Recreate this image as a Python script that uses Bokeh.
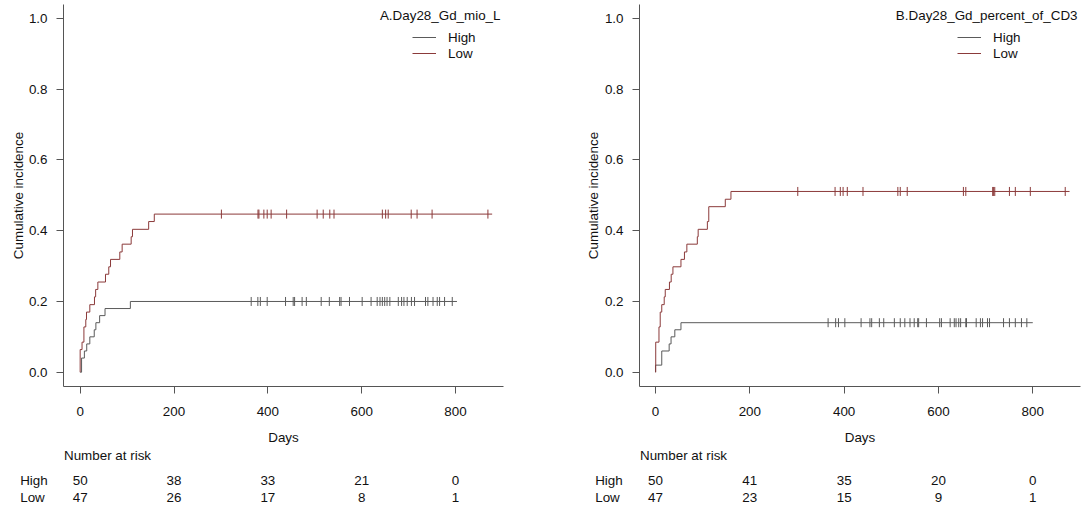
import numpy as np
from bokeh.plotting import figure
from bokeh.models import (Range1d, FixedTicker, PrintfTickFormatter, Label,
                          Legend, LegendItem)
from bokeh.layouts import row, column
from bokeh.core.properties import value
from bokeh.embed import file_html
from bokeh.resources import INLINE

# ---------------- data ----------------
risk_times = [0, 200, 400, 600, 800]
group_names = ["High", "Low"]
x_ticks = [0, 200, 400, 600, 800]
y_ticks = [0.0, 0.2, 0.4, 0.6, 0.8, 1.0]

# Panel A
a_title = "A.Day28_Gd_mio_L"
a_high_event_days = [3, 9, 14, 20.6, 30, 33.5, 41.5, 53, 107]
a_high_ci = [0.04, 0.06, 0.08, 0.10, 0.12, 0.14, 0.16, 0.18, 0.20]
a_high_censor_days = [364.5, 378.7, 384, 398.6, 437.7, 454, 457, 473, 482, 513.7, 531, 553,
                      556, 574, 601, 620, 633, 639, 644, 649, 654, 660, 678, 685, 690, 697,
                      706, 712.6, 736, 741, 752, 761, 766, 776.6, 793]
a_high_last_day = 803
a_low_event_days = [0, 4, 8, 12, 13.5, 20.6, 30.5, 33, 37.7, 54, 61, 64.7, 84.5, 89.5,
                    108.7, 111.5, 146, 158]
a_low_ci = [0.064, 0.085, 0.128, 0.149, 0.170, 0.191, 0.213, 0.234, 0.255, 0.277, 0.298,
            0.319, 0.340, 0.362, 0.383, 0.404, 0.426, 0.447]
a_low_censor_days = [301, 379, 381, 391.5, 398.6, 407, 440, 505, 518, 532, 541, 644, 651,
                     656.5, 705.5, 718, 750, 869]
a_low_last_day = 878
a_risk_high = [50, 38, 33, 21, 0]
a_risk_low = [47, 26, 17, 8, 1]

# Panel B
b_title = "B.Day28_Gd_percent_of_CD3"
b_high_event_days = [0, 13.3, 29, 33, 41, 54]
b_high_ci = [0.02, 0.06, 0.08, 0.10, 0.12, 0.14]
b_high_censor_days = [366, 382, 388, 401.5, 436, 454.7, 458.4, 474.7, 484, 506.5, 519, 528.7,
                      539.7, 548.6, 556, 558, 574.5, 602.6, 606.3, 624.8, 633.6, 637.3, 643,
                      647, 658, 659.5, 680, 689, 693.5, 704, 708.3, 738, 750.5, 763, 776, 787.4]
b_high_last_day = 800
b_low_event_days = [0.5, 7.4, 10, 13.3, 18.5, 20.7, 29.6, 33.3, 37, 54, 61.4, 66.5, 88.7,
                    90.5, 110, 113, 148, 160]
b_low_ci = [0.085, 0.128, 0.170, 0.191, 0.213, 0.234, 0.255, 0.277, 0.298, 0.319, 0.340,
            0.362, 0.383, 0.404, 0.426, 0.468, 0.489, 0.511]
b_low_censor_days = [301.7, 380.8, 391.9, 397.8, 406.7, 440, 513.9, 519, 533.8, 652.9, 658,
                     715, 717, 719.4, 750.5, 763, 794.8, 868.8]
b_low_last_day = 878
b_risk_high = [50, 41, 35, 20, 0]
b_risk_low = [47, 23, 15, 9, 1]

# ---------------- style ----------------
FONT = "Liberation Sans"
FS = "13.4px"
TXT = "#111111"
AXC = "#555555"
COL_HIGH = "#5a5a5a"
COL_LOW = "#8b3a3a"

MAIN_H = 424
FRAME_TOP = 4
FRAME_BOTTOM = 386
TABLE_H = 88


def make_panel(title, high, low, risk_high, risk_low, width, b_left, b_right,
               x_start, x_end, legend_x, legend_standoff, title_x, ylab_standoff, rowlab_px):
    frame_w = width - b_left - b_right
    p = figure(width=width, height=MAIN_H, output_backend="svg", toolbar_location=None,
               x_range=Range1d(x_start, x_end), y_range=Range1d(-0.0404, 1.0396),
               min_border_left=b_left, min_border_right=b_right,
               min_border_top=FRAME_TOP, min_border_bottom=MAIN_H - FRAME_BOTTOM,
               background_fill_color="white", border_fill_color="white")
    p.frame_align = False
    p.outline_line_color = None
    p.grid.visible = False

    for ax in (p.xaxis[0], p.yaxis[0]):
        ax.axis_line_color = AXC
        ax.major_tick_line_color = AXC
        ax.major_tick_out = 7
        ax.major_tick_in = 0
        ax.minor_tick_line_color = None
        ax.major_label_text_font = FONT
        ax.major_label_text_font_size = FS
        ax.major_label_text_color = TXT
        ax.axis_label_text_font = FONT
        ax.axis_label_text_font_size = FS
        ax.axis_label_text_font_style = "normal"
        ax.axis_label_text_color = TXT

    p.xaxis.ticker = FixedTicker(ticks=x_ticks)
    p.xaxis.formatter = PrintfTickFormatter(format="%d")
    p.xaxis.major_label_standoff = 13

    p.yaxis.ticker = FixedTicker(ticks=y_ticks)
    p.yaxis.formatter = PrintfTickFormatter(format="%.1f")
    p.yaxis.major_label_standoff = 9
    p.yaxis.axis_label = "Cumulative incidence"
    p.yaxis.axis_label_standoff = ylab_standoff

    items = []
    for name, (ev_days, ci, cens, last), col in zip(group_names, (high, low), (COL_HIGH, COL_LOW)):
        xs = [0] + list(ev_days) + [last]
        ys = [0] + list(ci) + [ci[-1]]
        p.step(x=xs, y=ys, mode="after", line_color=col, line_width=1)
        p.scatter(x=cens, y=[ci[-1]] * len(cens), marker="dash", angle=np.pi / 2,
                  size=9, line_color=col, line_width=1)
        proxy = p.line(x=[np.nan], y=[np.nan], line_color=col, line_width=1)
        items.append(LegendItem(label=name, renderers=[proxy]))

    legend = Legend(items=items, location=(legend_x, 324.7), glyph_width=24, glyph_height=16,
                    label_height=16, label_standoff=legend_standoff, spacing=0, padding=0,
                    margin=0, border_line_color=None, background_fill_alpha=0,
                    label_text_font=FONT, label_text_font_size=FS, label_text_color=TXT)
    p.add_layout(legend)

    p.add_layout(Label(x=title_x, y=371.1, x_units="screen", y_units="screen", text=title,
                       text_align="right", text_baseline="middle", text_font=FONT,
                       text_font_size=FS, text_color=TXT))

    # ---- lower strip: x label + number at risk table ----
    scale = frame_w / (x_end - x_start)
    t_start = x_start - b_left / scale
    t_end = x_end + b_right / scale
    t = figure(width=width, height=TABLE_H, output_backend="svg", toolbar_location=None,
               x_range=Range1d(t_start, t_end), y_range=Range1d(TABLE_H, 0),
               x_axis_location=None, y_axis_location=None,
               min_border_left=0, min_border_right=0, min_border_top=0, min_border_bottom=0,
               background_fill_color="white", border_fill_color="white")
    t.frame_align = False
    t.outline_line_color = None
    t.grid.visible = False

    def txt(x, y, s, align):
        t.text(x=x, y=y, text=s, text_align=align, text_baseline="middle",
               text_font=value(FONT), text_font_size=FS, text_color=TXT)

    txt([(x_start + x_end) / 2], [13.4], ["Days"], "center")
    txt([t_start + (b_left + 0.5) / scale], [30.7], ["Number at risk"], "left")
    for name, counts, yy in zip(group_names, (risk_high, risk_low), (55.6, 72.9)):
        txt([t_start + rowlab_px / scale], [yy], [name], "left")
        txt(risk_times, [yy] * len(risk_times), [str(c) for c in counts], "center")

    return column(p, t)


pa = make_panel(a_title,
                (a_high_event_days, a_high_ci, a_high_censor_days, a_high_last_day),
                (a_low_event_days, a_low_ci, a_low_censor_days, a_low_last_day),
                a_risk_high, a_risk_low,
                width=540, b_left=63, b_right=37, x_start=-35.5, x_end=902.2,
                legend_x=349, legend_standoff=12, title_x=437, ylab_standoff=0,
                rowlab_px=19.7)
pb = make_panel(b_title,
                (b_high_event_days, b_high_ci, b_high_censor_days, b_high_last_day),
                (b_low_event_days, b_low_ci, b_low_censor_days, b_low_last_day),
                b_risk_high, b_risk_low,
                width=543, b_left=99, b_right=3, x_start=-33.9, x_end=901.2,
                legend_x=318, legend_standoff=12, title_x=438, ylab_standoff=1,
                rowlab_px=54.7)

layout = row(pa, pb)
open("out.html", "w").write(file_html(layout, INLINE))
